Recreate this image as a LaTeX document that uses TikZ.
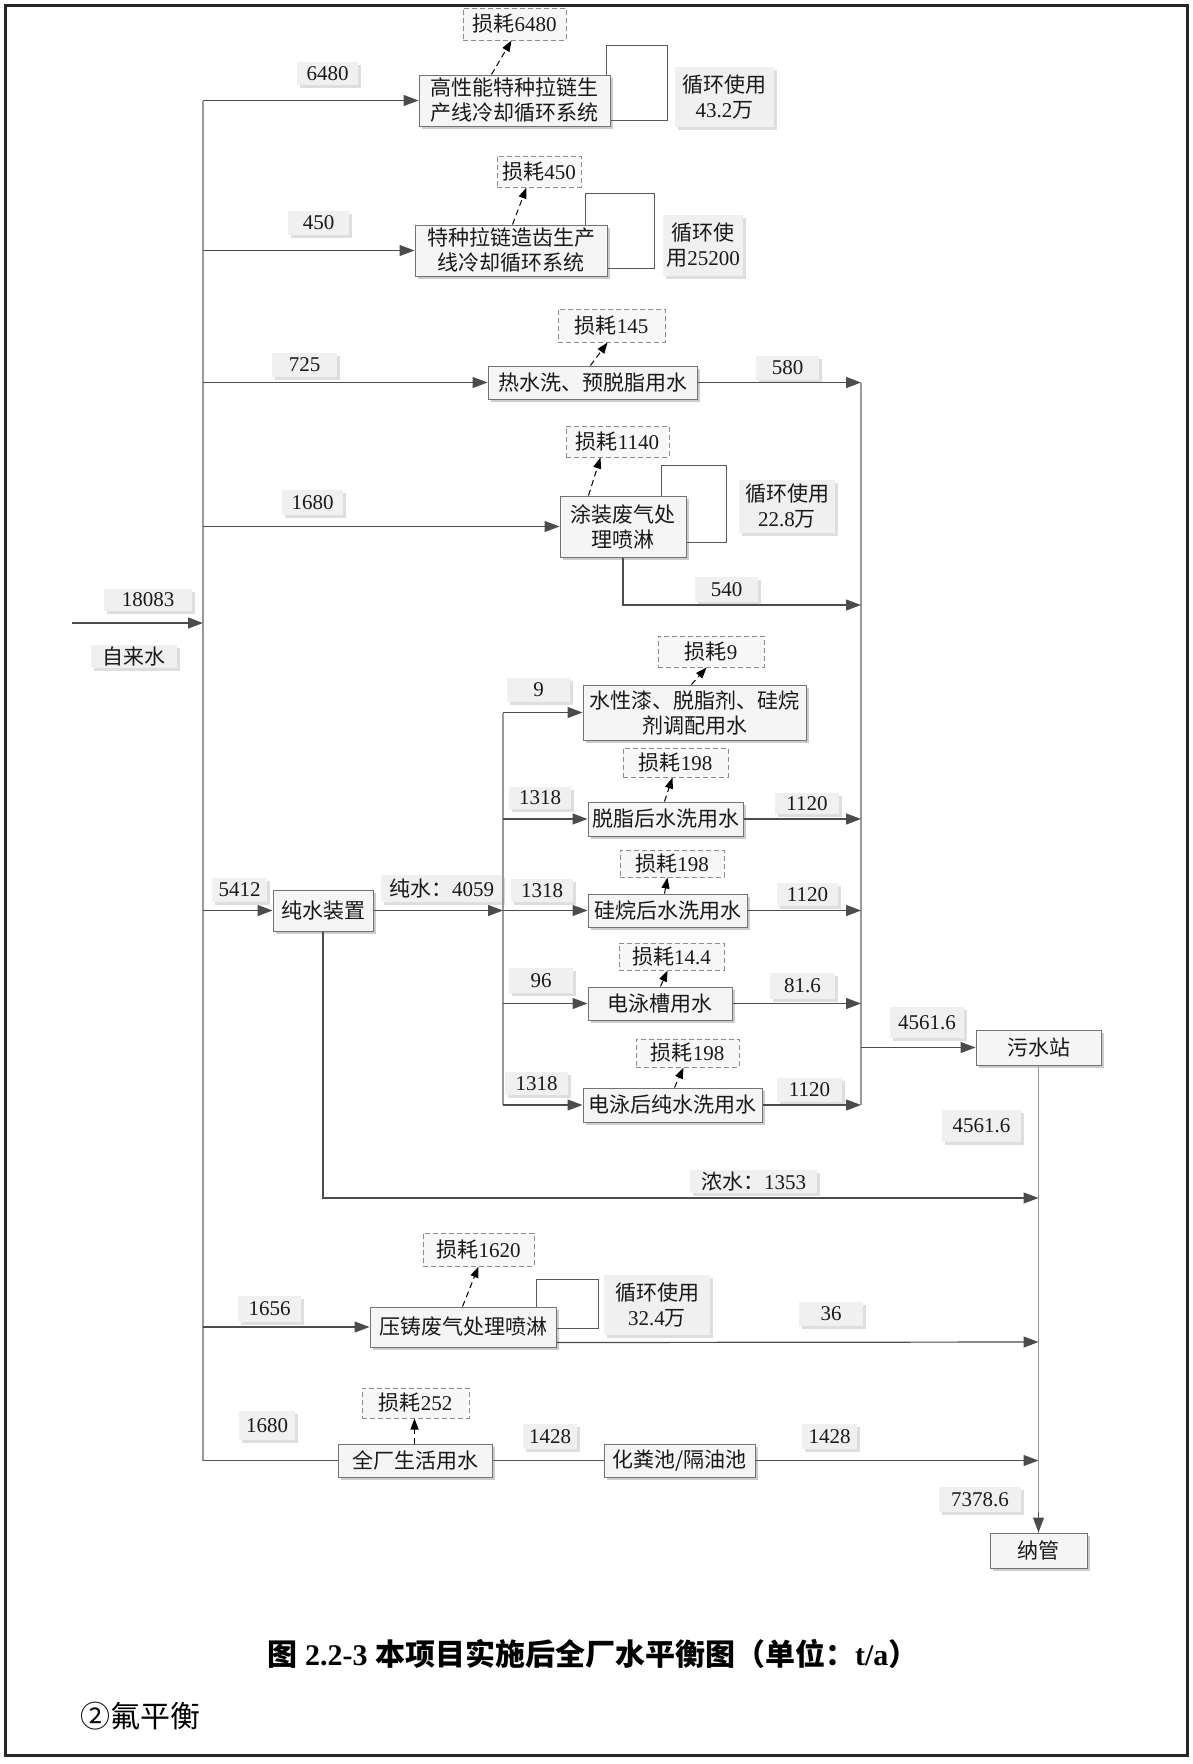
\documentclass[tikz,border=0pt]{standalone}
\usepackage{fontspec}
\setmainfont{Liberation Serif}
\newfontfamily\cjk{Noto Sans CJK SC}
\usetikzlibrary{arrows.meta,shadows,calc}
\newcommand\zh[1]{{\cjk #1}}
\newcommand\bx[7]{%
  \pgfmathsetmacro\bxw{#5-#3}\pgfmathsetmacro\bxh{#6-#4}%
  \pgfmathsetmacro\bxx{(#3+#5)/2}\pgfmathsetmacro\bxy{(#4+#6)/2}%
  \node[#2,minimum width=\bxw pt,minimum height=\bxh pt] (#1) at (\bxx,\bxy) {#7};}
\begin{document}
\begin{tikzpicture}[x=1pt,y=-1pt,
  base/.style={rectangle,inner sep=0pt,align=center,font=\fontsize{21}{25}\selectfont,text=black!90},
  proc/.style={base,draw=black!55,line width=1pt,fill=black!4,general shadow={shadow xshift=3pt,shadow yshift=-3pt,fill=black!20}},
  loss/.style={base,draw=black!45,dash pattern=on 5pt off 3pt,line width=1pt,fill=black!3},
  lab/.style={base,fill=black!6,general shadow={shadow xshift=3pt,shadow yshift=-3pt,fill=black!13}},
  arr/.style={draw=black!70,line width=1.2pt,-{Triangle[length=15pt,width=11pt]}},
  plain/.style={draw=black!65,line width=1.2pt},
  bus/.style={draw=black!40,line width=1.6pt},
  lossarr/.style={draw=black,line width=1pt,dash pattern=on 6pt off 4pt,-{Triangle[length=11pt,width=8pt]}},
  cyc/.style={draw=black!65,line width=1.2pt}]
\useasboundingbox (0,0) rectangle (1192,1764);
\draw[line width=3pt,black!85] (5,5) rectangle (1187,1755);

% process boxes
\bx{P1}{proc}{419}{75}{610}{126}{\zh{高性能特种拉链生}\\\zh{产线冷却循环系统}}
\bx{P2}{proc}{415}{225}{607}{276}{\zh{特种拉链造齿生产}\\\zh{线冷却循环系统}}
\bx{P3}{proc}{488}{366}{697}{399}{\zh{热水洗、预脱脂用水}}
\bx{P4}{proc}{560}{496}{686}{557}{\zh{涂装废气处}\\\zh{理喷淋}}
\bx{P5}{proc}{583}{685}{806}{740}{\zh{水性漆、脱脂剂、硅烷}\\\zh{剂调配用水}}
\bx{P6}{proc}{588}{802}{743}{836}{\zh{脱脂后水洗用水}}
\bx{P7}{proc}{588}{894}{747}{927}{\zh{硅烷后水洗用水}}
\bx{P8}{proc}{588}{987}{732}{1020}{\zh{电泳槽用水}}
\bx{P9}{proc}{583}{1088}{762}{1122}{\zh{电泳后纯水洗用水}}
\bx{PW}{proc}{273}{890}{373}{931}{\zh{纯水装置}}
\bx{WS}{proc}{976}{1030}{1101}{1065}{\zh{污水站}}
\bx{PY}{proc}{370}{1307}{556}{1347}{\zh{压铸废气处理喷淋}}
\bx{PL}{proc}{338}{1444}{492}{1477}{\zh{全厂生活用水}}
\bx{HF}{proc}{604}{1444}{755}{1477}{\zh{化粪池/隔油池}}
\bx{NG}{proc}{990}{1533}{1087}{1568}{\zh{纳管}}

% loss boxes
\bx{L1}{loss}{463}{8}{566}{40}{\zh{损耗}6480}
\bx{L2}{loss}{497}{156}{581}{187}{\zh{损耗}450}
\bx{L3}{loss}{558}{309}{665}{342}{\zh{损耗}145}
\bx{L4}{loss}{566}{426}{669}{457}{\zh{损耗}1140}
\bx{L5}{loss}{658}{636}{764}{667}{\zh{损耗}9}
\bx{L6}{loss}{623}{748}{728}{777}{\zh{损耗}198}
\bx{L7}{loss}{620}{850}{724}{877}{\zh{损耗}198}
\bx{L8}{loss}{619}{943}{724}{970}{\zh{损耗}14.4}
\bx{L9}{loss}{636}{1039}{739}{1067}{\zh{损耗}198}
\bx{L10}{loss}{423}{1233}{534}{1266}{\zh{损耗}1620}
\bx{L11}{loss}{362}{1388}{469}{1418}{\zh{损耗}252}

% labels
\bx{t1}{lab}{297}{62}{358}{85}{6480}
\bx{t2}{lab}{675}{67}{774}{127}{\zh{循环使用}\\43.2\zh{万}}
\bx{t3}{lab}{288}{211}{349}{235}{450}
\bx{t4}{lab}{663}{215}{743}{276}{\zh{循环使}\\\zh{用}25200}
\bx{t5}{lab}{272}{353}{337}{377}{725}
\bx{t6}{lab}{756}{356}{819}{380}{580}
\bx{t7}{lab}{282}{490}{343}{515}{1680}
\bx{t8}{lab}{739}{480}{835}{533}{\zh{循环使用}\\22.8\zh{万}}
\bx{t9}{lab}{695}{577}{758}{602}{540}
\bx{t10}{lab}{104}{589}{192}{611}{18083}
\bx{t11}{lab}{91}{645}{177}{668}{\zh{自来水}}
\bx{t12}{lab}{507}{678}{570}{702}{9}
\bx{t13}{lab}{509}{787}{571}{809}{1318}
\bx{t14}{lab}{775}{793}{839}{814}{1120}
\bx{t15}{lab}{212}{878}{267}{902}{5412}
\bx{t16}{lab}{381}{875}{502}{902}{\zh{纯水：}4059}
\bx{t17}{lab}{511}{879}{573}{902}{1318}
\bx{t18}{lab}{777}{883}{838}{906}{1120}
\bx{t19}{lab}{509}{968}{573}{993}{96}
\bx{t20}{lab}{770}{973}{835}{999}{81.6}
\bx{t21}{lab}{890}{1007}{964}{1038}{4561.6}
\bx{t22}{lab}{505}{1072}{568}{1095}{1318}
\bx{t23}{lab}{777}{1078}{842}{1102}{1120}
\bx{t24}{lab}{942}{1110}{1021}{1142}{4561.6}
\bx{t25}{lab}{690}{1170}{817}{1193}{\zh{浓水：}1353}
\bx{t26}{lab}{238}{1296}{301}{1322}{1656}
\bx{t27}{lab}{604}{1275}{710}{1335}{\zh{循环使用}\\32.4\zh{万}}
\bx{t28}{lab}{799}{1302}{863}{1326}{36}
\bx{t29}{lab}{239}{1411}{295}{1440}{1680}
\bx{t30}{lab}{523}{1424}{577}{1449}{1428}
\bx{t31}{lab}{802}{1424}{857}{1449}{1428}
\bx{t32}{lab}{939}{1487}{1021}{1512}{7378.6}

% helper coordinates
\coordinate (trunkx) at (203,0);
\coordinate (colx) at (861,0);
\coordinate (subx) at (503,0);
\coordinate (src) at (72,623);
\coordinate (c540) at (861,605);
\coordinate (nsy) at (0,1198);
\coordinate (yzy) at (0,1342);

% main trunk
\draw[bus] (P1.west -| trunkx) -- (PL.west -| trunkx);
\foreach \n in {P1,P2,P3,P4,PW,PY} \draw[arr] (\n.west -| trunkx) -- (\n.west);
\draw[plain] (PL.west -| trunkx) -- (PL.west);
\draw[arr] (src) -- (src -| trunkx);

% collector
\draw[bus] (P3.east -| colx) -- (P9.east -| colx);
\draw[arr] (P3.east) -- (P3.east -| colx);
\draw[arr] (P4.south) |- (c540);
\foreach \n in {P6,P7,P8,P9} \draw[arr] (\n.east) -- (\n.east -| colx);
\draw[arr] (WS.west -| colx) -- (WS.west);

% pure water distribution
\draw[bus] (P5.west -| subx) -- (P9.west -| subx);
\draw[arr] (PW.east) -- (PW.east -| subx);
\foreach \n in {P5,P6,P7,P8,P9} \draw[arr] (\n.west -| subx) -- (\n.west);

% outlet
\draw[bus] (WS.south) -- (WS.south |- NG.north);
\draw[arr] (WS.south |- t32.south) -- (NG.north);
\draw[arr] (PW.south) |- (WS.south |- nsy);
\draw[arr] ([yshift=5pt]PY.south east) -- (WS.south |- yzy);
\draw[plain] (PL.east) -- (HF.west);
\draw[arr] (HF.east) -- (HF.east -| WS.south);

% recycle loops
\draw[cyc] ([xshift=-4pt]P1.north east) -- ++(0,-29) -| ([xshift=57pt,yshift=6pt]P1.south east) -- ([yshift=6pt]P1.south east);
\draw[cyc] ([xshift=-22pt]P2.north east) -- ++(0,-31) -| ([xshift=47pt,yshift=8pt]P2.south east) -- ([yshift=8pt]P2.south east);
\draw[cyc] ([xshift=-25pt]P4.north east) -- ++(0,-30) -| ([xshift=40pt,yshift=15pt]P4.south east) -- ([yshift=15pt]P4.south east);
\draw[cyc] ([xshift=-20pt]PY.north east) -- ++(0,-27) -| ([xshift=42pt,yshift=19pt]PY.south east) -- ([yshift=19pt]PY.south east);

% loss arrows
\draw[lossarr] ([xshift=73pt]P1.north west) -- ([xshift=49pt]L1.south west);
\draw[lossarr] ([xshift=98pt]P2.north west) -- ([xshift=30pt]L2.south west);
\draw[lossarr] ([xshift=103pt]P3.north west) -- ([xshift=50pt]L3.south west);
\draw[lossarr] ([xshift=29pt]P4.north west) -- ([xshift=35pt]L4.south west);
\draw[lossarr] ([xshift=109pt]P5.north west) -- ([xshift=49pt]L5.south west);
\draw[lossarr] ([xshift=77pt]P6.north west) -- ([xshift=50pt]L6.south west);
\draw[lossarr] ([xshift=77pt]P7.north west) -- ([xshift=48pt]L7.south west);
\draw[lossarr] ([xshift=73pt]P8.north west) -- ([xshift=49pt]L8.south west);
\draw[lossarr] ([xshift=92pt]P9.north west) -- ([xshift=48pt]L9.south west);
\draw[lossarr] ([xshift=93pt]PY.north west) -- ([xshift=56pt]L10.south west);
\draw[lossarr] ([xshift=77pt]PL.north west) -- ([xshift=53pt]L11.south west);

% caption
\node[font=\fontsize{30}{36}\selectfont\bfseries] (cap) at (593,1654) {\zh{图} 2.2-3 \zh{本项目实施后全厂水平衡图（单位：}t/a\zh{）}};
\node[anchor=west,inner sep=0pt,font=\fontsize{30}{36}\selectfont] (sub) at (80,1716) {\zh{②氟平衡}};
\end{tikzpicture}
\end{document}
